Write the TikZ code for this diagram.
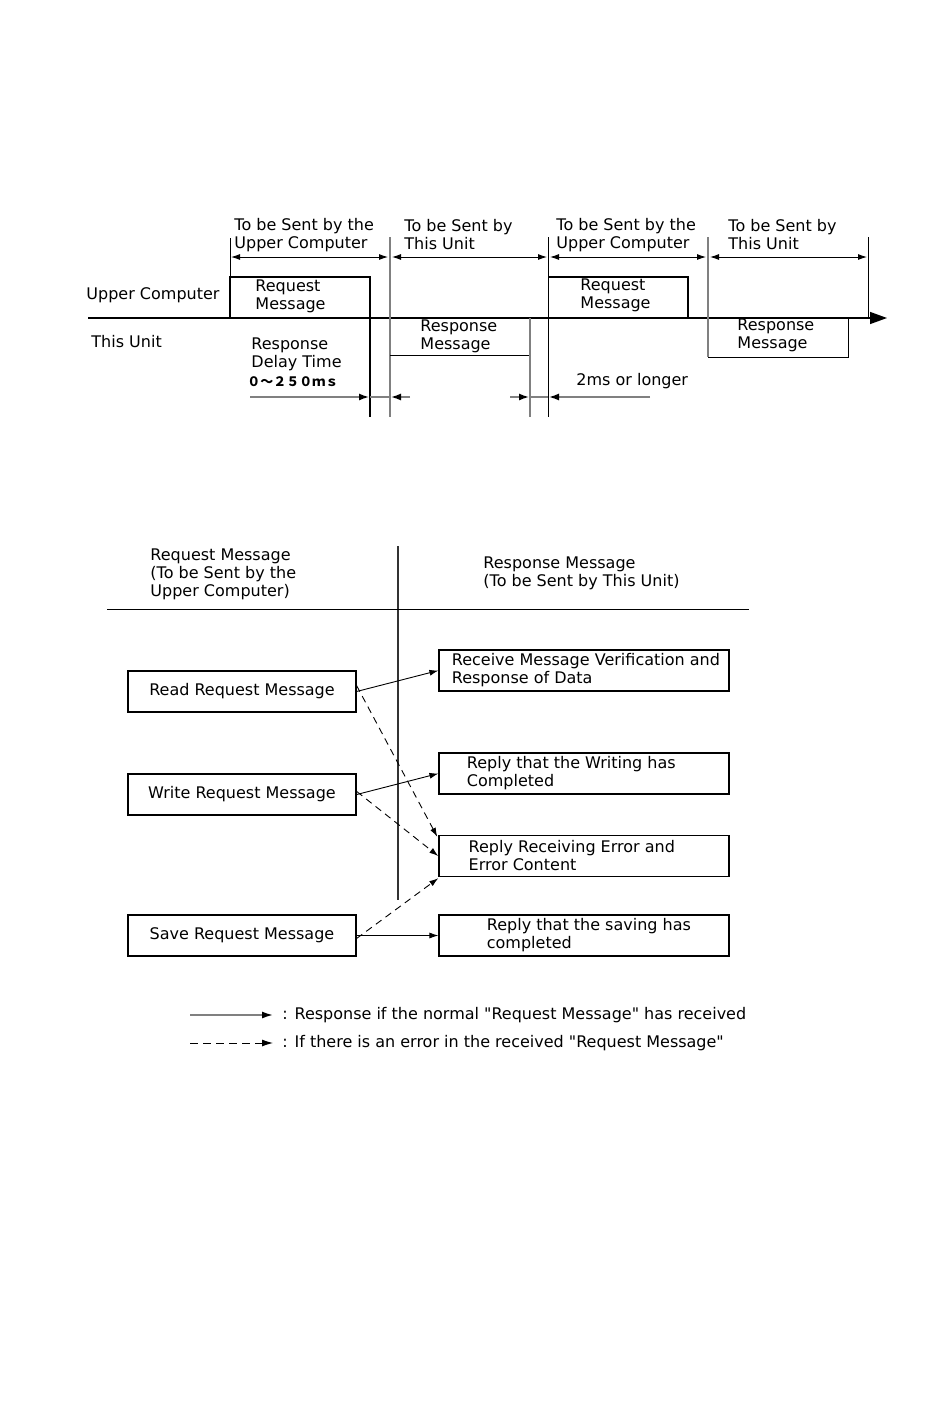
\documentclass[tikz,border=0pt]{standalone}
\usepackage{fontspec}
\setmainfont{DejaVu Sans}
\newfontfamily\cjkfont{Noto Sans CJK JP}
\usetikzlibrary{positioning,arrows.meta}

\begin{document}
\begin{tikzpicture}[x=1pt,y=-1pt, line width=0.9pt,
    txt/.style={font=\fontsize{16}{18}\selectfont, inner sep=0pt, align=left, anchor=west},
    tip/.style={-{Latex[length=9pt,width=6pt]}},
    dbl/.style={{Latex[length=9pt,width=6pt]}-{Latex[length=9pt,width=6pt]}},
    sig/.style={line width=1.4pt},
    guide/.style={gray, line width=1.4pt},
    lbox/.style={draw, line width=1.1pt, minimum width=228pt, minimum height=41pt,
      inner sep=0pt, font=\fontsize{16}{18}\selectfont},
    rbox/.style={draw, line width=1.1pt, minimum width=290pt, minimum height=41pt, inner sep=0pt},
    errline/.style={tip, dash pattern=on 7pt off 5pt}]
  \useasboundingbox (0,0) rectangle (950,1408);

  % timing chart
  \draw[sig, -{Triangle[length=17pt,width=12pt]}] (88,318) -- (887,318);
  \draw (230,238) -- (230,277);
  \draw[sig] (230,318) -- (230,277) -- (370,277) -- (370,417);
  \draw[guide] (390,237) -- (390,417);
  \draw (390,355) -- (530,355);
  \draw[guide, line width=1.9pt] (530,318) -- (530,417);
  \draw (548,237) -- (548,417);
  \draw[sig] (548,277) -- (688,277) -- (688,318);
  \draw[guide] (708,237) -- (708,357);
  \draw (708,357) -- (848,357) -- (848,318);
  \draw (868,237) -- (868,318);

  \draw[dbl] (231,257) -- (388,257);
  \draw[dbl] (392,257) -- (547,257);
  \draw[dbl] (550,257) -- (706,257);
  \draw[dbl] (710,257) -- (867,257);

  \draw[guide, -{Latex[black,length=10pt,width=7pt]}] (250,397) -- (369,397);
  \draw[guide] (370,397) -- (390,397);
  \draw[guide, -{Latex[black,length=10pt,width=7pt]}] (410,397) -- (391,397);
  \draw[guide, -{Latex[black,length=10pt,width=7pt]}] (510,397) -- (529,397);
  \draw[guide] (530,397) -- (548,397);
  \draw[guide, -{Latex[black,length=10pt,width=7pt]}] (650,397) -- (549,397);

  \node[txt] (upper) at (86,295) {Upper Computer};
  \node[txt] (unit) at (91,342) {This Unit};
  \node[txt] (sent1) at (234,235) {To be Sent by the\\Upper Computer};
  \node[txt] (sent2) at (404,235) {To be Sent by\\This Unit};
  \node[txt] (sent3) at (556,235) {To be Sent by the\\Upper Computer};
  \node[txt] (sent4) at (728,235) {To be Sent by\\This Unit};
  \node[txt] (req1) at (255,296) {Request\\Message};
  \node[txt] (req2) at (580,295) {Request\\Message};
  \node[txt] (resp1) at (420,336) {Response\\Message};
  \node[txt] (resp2) at (737,335) {Response\\Message};
  \node[txt] (delay) at (251,354) {Response\\Delay Time};
  \node[txt, font=\cjkfont\bfseries\fontsize{13}{14}\selectfont] (range) at (247,382) {０～２５０ｍｓ};
  \node[txt] (gap) at (576,381) {2ms or longer};

  % request / response table
  \draw[gray!40!black, line width=1.5pt] (398,546) -- (398,900);
  \draw (107,609) -- (749,609);
  \node[txt] (reqhead) at (150,574) {Request Message\\(To be Sent by the\\Upper Computer)};
  \node[txt] (resphead) at (483,573) {Response Message\\(To be Sent by This Unit)};

  \node[lbox] (read) at (242,691.5) {Read Request Message};
  \node[lbox, line width=1.5pt] (write) at (242,794.5) {Write Request Message};
  \node[lbox] (save) at (242,935.5) {Save Request Message};

  \node[rbox] (ack) at (584,670.5) {};
  \node[rbox] (wok) at (584,773.5) {};
  \node[rbox, line width=1.5pt] (err) at (584,856) {};
  \node[rbox] (sok) at (584,935.5) {};
  \node[txt] (ackt) at ([xshift=13pt]ack.west) {Receive Message Verification and\\Response of Data};
  \node[txt] (wokt) at ([xshift=28pt]wok.west) {Reply that the Writing has\\Completed};
  \node[txt] (errt) at ([xshift=30pt]err.west) {Reply Receiving Error and\\Error Content};
  \node[txt] (sokt) at ([xshift=48pt]sok.west) {Reply that the saving has\\completed};

  \draw[tip] (read.east) -- (ack.west);
  \draw[tip] (write.east) -- (wok.west);
  \draw[tip] (save.east) -- (sok.west);
  \draw[errline] ([yshift=6pt]read.east) -- ([shift={(-1pt,-2pt)}]err.north west);
  \draw[errline] ([yshift=3pt]write.east) -- (err.west);
  \draw[errline] ([yshift=-3pt]save.east) -- ([yshift=-1pt]err.south west);

  % legend
  \coordinate (solidend) at (273,1015);
  \coordinate (dashend) at (273,1043);
  \draw[gray, line width=1.6pt, -{Latex[black,length=11pt,width=7pt]}] (190,1015) -- (solidend);
  \draw[dash pattern=on 8pt off 5pt, -{Latex[black,length=11pt,width=7pt]}] (190,1043) -- (dashend);
  \node[txt] (normal) at (282,1015) {: Response if the normal \textquotedbl Request Message\textquotedbl{} has received};
  \node[txt] (error) at (282,1043) {: If there is an error in the received \textquotedbl Request Message\textquotedbl};
\end{tikzpicture}
\end{document}
